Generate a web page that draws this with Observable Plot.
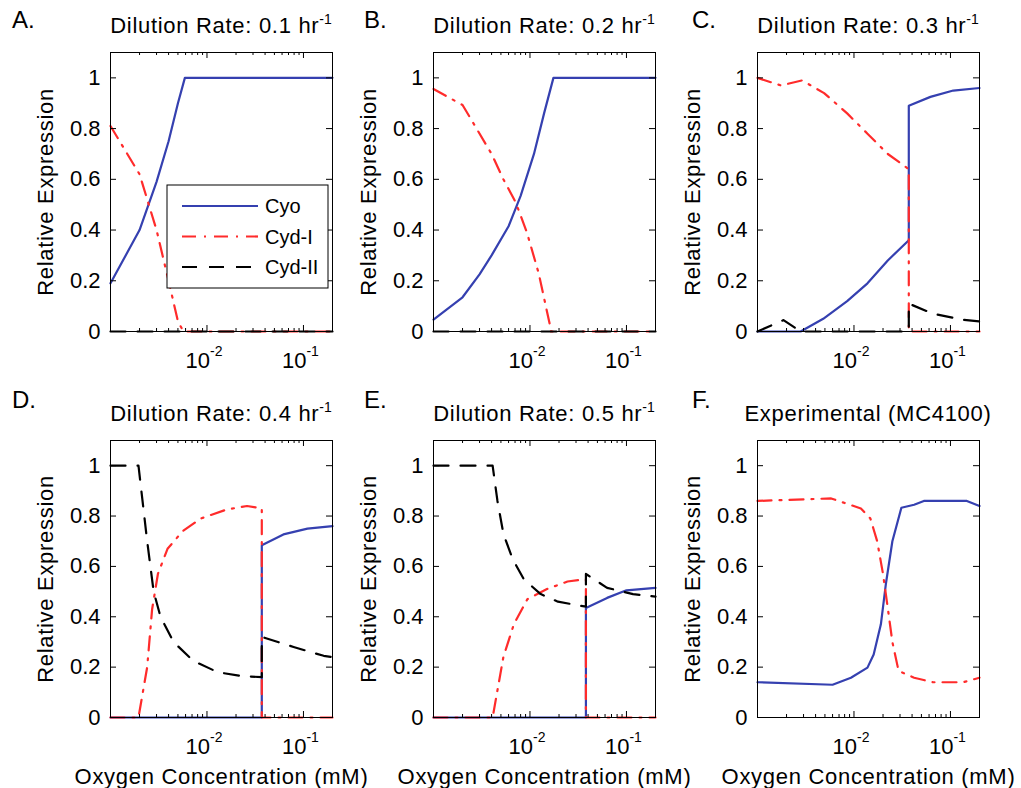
<!DOCTYPE html>
<html><head><meta charset="utf-8">
<script src="https://cdn.jsdelivr.net/npm/d3@7"></script>
<script src="https://cdn.jsdelivr.net/npm/@observablehq/plot@0.6"></script>
<style>
html,body{margin:0;padding:0;background:#fff;}
#root{position:relative;width:1021px;height:788px;overflow:hidden;background:#fff;}
#root > svg{position:absolute;overflow:visible;}
</style></head><body><div id="root"></div>
<script>
// ---------- labels / ticks ----------
const yTicks = [0, 0.2, 0.4, 0.6, 0.8, 1];
const yTickLabels = ["0", "0.2", "0.4", "0.6", "0.8", "1"];
const xMajor = [0.01, 0.1];
const xMajorBase = ["10", "10"];
const xMajorExp = ["-2", "-1"];
const xMinor = [0.002, 0.003, 0.004, 0.005, 0.006, 0.007, 0.008, 0.009,
                0.02, 0.03, 0.04, 0.05, 0.06, 0.07, 0.08, 0.09, 0.2];
const seriesNames = ["Cyo", "Cyd-I", "Cyd-II"];
const panelLetters = ["A.", "B.", "C.", "D.", "E.", "F."];
const panelTitles = ["Dilution Rate: 0.1 hr", "Dilution Rate: 0.2 hr", "Dilution Rate: 0.3 hr",
                     "Dilution Rate: 0.4 hr", "Dilution Rate: 0.5 hr", "Experimental (MC4100)"];
const panelTitleExp = ["-1", "-1", "-1", "-1", "-1", ""];
const yLabel = "Relative Expression";
const xLabel = "Oxygen Concentration (mM)";

// ---------- data: [oxygen mM, relative expression] ----------
const aCyo   = [[0.001,0.19],[0.002,0.40],[0.003,0.59],[0.004,0.75],[0.005,0.90],[0.0059,1.0],[0.2,1.0]];
const aCydI  = [[0.001,0.81],[0.002,0.62],[0.003,0.40],[0.004,0.20],[0.005,0.04],[0.0057,0],[0.2,0]];
const aCydII = [[0.001,0],[0.2,0]];

const bCyo   = [[0.001,0.047],[0.002,0.135],[0.003,0.225],[0.004,0.30],[0.006,0.415],[0.008,0.535],[0.011,0.70],[0.014,0.86],[0.0175,1.0],[0.2,1.0]];
const bCydI  = [[0.001,0.956],[0.002,0.893],[0.0026,0.82],[0.004,0.70],[0.0053,0.60],[0.0071,0.51],[0.0093,0.39],[0.0123,0.23],[0.016,0.03],[0.0165,0],[0.2,0]];
const bCydII = [[0.001,0],[0.2,0]];

const cCyo   = [[0.001,0],[0.0028,0],[0.0048,0.05],[0.0085,0.12],[0.0138,0.19],[0.0224,0.28],[0.037,0.36],[0.037,0.89],[0.062,0.925],[0.107,0.95],[0.2,0.96]];
const cCydI  = [[0.001,1.0],[0.00175,0.97],[0.0029,0.99],[0.0049,0.94],[0.0085,0.86],[0.0138,0.78],[0.0224,0.70],[0.037,0.64],[0.037,0],[0.2,0]];
const cCydII = [[0.001,0],[0.00186,0.045],[0.0028,0],[0.037,0],[0.037,0.11],[0.066,0.07],[0.136,0.046],[0.2,0.04]];

const dCyo   = [[0.001,0],[0.037,0],[0.037,0.684],[0.062,0.727],[0.11,0.75],[0.2,0.76]];
const dCydI  = [[0.001,0],[0.00195,0],[0.0024,0.20],[0.0027,0.43],[0.0031,0.57],[0.0039,0.67],[0.0056,0.74],[0.0086,0.79],[0.016,0.826],[0.026,0.84],[0.037,0.83],[0.037,0],[0.2,0]];
const dCydII = [[0.001,1.0],[0.00195,1.0],[0.0024,0.70],[0.0028,0.50],[0.0033,0.40],[0.0045,0.30],[0.0072,0.225],[0.0129,0.18],[0.0224,0.165],[0.037,0.16],[0.037,0.32],[0.079,0.28],[0.162,0.245],[0.2,0.24]];

const eCyo   = [[0.001,0],[0.038,0],[0.038,0.435],[0.063,0.475],[0.1,0.505],[0.2,0.515]];
const eCydI  = [[0.001,0],[0.0041,0],[0.0053,0.24],[0.0068,0.37],[0.0094,0.47],[0.015,0.51],[0.0245,0.54],[0.038,0.55],[0.038,0],[0.2,0]];
const eCydII = [[0.001,1],[0.0041,1],[0.0046,0.86],[0.0053,0.73],[0.0066,0.63],[0.0086,0.55],[0.0129,0.49],[0.0195,0.46],[0.038,0.44],[0.038,0.57],[0.063,0.515],[0.117,0.49],[0.2,0.48]];

const fCyo   = [[0.001,0.14],[0.006,0.13],[0.0093,0.158],[0.0138,0.198],[0.016,0.25],[0.019,0.37],[0.0214,0.53],[0.025,0.70],[0.031,0.833],[0.042,0.845],[0.053,0.86],[0.148,0.86],[0.2,0.84]];
const fCydI  = [[0.001,0.86],[0.0058,0.87],[0.0118,0.83],[0.0148,0.79],[0.0174,0.70],[0.020,0.57],[0.0224,0.435],[0.025,0.30],[0.029,0.185],[0.042,0.158],[0.066,0.14],[0.135,0.14],[0.2,0.158]];

const panels = [
  [["Cyo", aCyo], ["Cyd-I", aCydI], ["Cyd-II", aCydII]],
  [["Cyo", bCyo], ["Cyd-I", bCydI], ["Cyd-II", bCydII]],
  [["Cyo", cCyo], ["Cyd-I", cCydI], ["Cyd-II", cCydII]],
  [["Cyo", dCyo], ["Cyd-I", dCydI], ["Cyd-II", dCydII]],
  [["Cyo", eCyo], ["Cyd-I", eCydI], ["Cyd-II", eCydII]],
  [["Cyo", fCyo], ["Cyd-I", fCydI]]
];

// ---------- styles / layout ----------
const FONT = "'Liberation Sans', Arial, Helvetica, sans-serif";
const colors = {"Cyo": "#3540b0", "Cyd-I": "#ff2b2b", "Cyd-II": "#000000"};
const dashes = {"Cyo": null, "Cyd-I": "14,8,2,8", "Cyd-II": "15,12"};
const cellX = [[0, 340], [340, 680], [680, 1021]];
const cellY = [[0, 394], [394, 788]];
const frameL = [110, 433, 757], frameW = 222;
const frameT = [52, 440], frameH = [279, 277];

const root = document.getElementById("root");

function makePanel(i) {
  const col = i % 3, row = Math.floor(i / 3);
  const [cl, cr] = cellX[col], [ct, cb] = cellY[row];
  const fL = frameL[col], fT = frameT[row], fH = frameH[row];
  const ml = fL - cl, mr = cr - (fL + frameW), mt = fT - ct, mb = cb - (fT + fH);
  const marks = [];
  for (const [name, data] of panels[i]) {
    marks.push(Plot.line(data, {x: d => d[0], y: d => d[1], stroke: colors[name],
      strokeWidth: 2.2, strokeDasharray: dashes[name]}));
  }
  marks.push(Plot.frame({stroke: "#000", strokeWidth: 1}));
  // inward ticks
  marks.push(Plot.tickX(xMajor, {x: d => d, insetTop: fH - 6, stroke: "#000"}));
  marks.push(Plot.tickX(xMajor, {x: d => d, insetBottom: fH - 6, stroke: "#000"}));
  marks.push(Plot.tickX(xMinor, {x: d => d, insetTop: fH - 3, stroke: "#000"}));
  marks.push(Plot.tickX(xMinor, {x: d => d, insetBottom: fH - 3, stroke: "#000"}));
  marks.push(Plot.tickY(yTicks, {y: d => d, insetRight: frameW - 6, stroke: "#000"}));
  marks.push(Plot.tickY(yTicks, {y: d => d, insetLeft: frameW - 6, stroke: "#000"}));
  // tick labels
  marks.push(Plot.text(yTicks, {y: d => d, text: (d, j) => yTickLabels[j], frameAnchor: "left",
    textAnchor: "end", lineAnchor: "middle", dx: -10, fontSize: 22, fill: "#000"}));
  marks.push(Plot.text(xMajor, {x: d => d, text: (d, j) => xMajorBase[j], frameAnchor: "bottom",
    textAnchor: "end", lineAnchor: "bottom", dx: 3, dy: 36, fontSize: 22, fill: "#000"}));
  marks.push(Plot.text(xMajor, {x: d => d, text: (d, j) => xMajorExp[j], frameAnchor: "bottom",
    textAnchor: "start", lineAnchor: "bottom", dx: 3, dy: 24, fontSize: 14, fill: "#000"}));
  // axis labels
  marks.push(Plot.text([yLabel], {text: d => d, frameAnchor: "left", rotate: -90,
    textAnchor: "middle", lineAnchor: "middle", dx: -65, fontSize: 22, fill: "#000"}));
  if (row === 1) {
    marks.push(Plot.text([xLabel], {text: d => d, frameAnchor: "bottom",
      textAnchor: "middle", lineAnchor: "bottom", dy: 66, fontSize: 22, fill: "#000"}));
  }
  const svg = Plot.plot({
    width: cr - cl, height: cb - ct,
    marginLeft: ml, marginRight: mr, marginTop: mt, marginBottom: mb,
    x: {type: "log", domain: [0.001, 0.2], axis: null},
    y: {domain: [0, 1.1], axis: null},
    style: {fontFamily: FONT, background: "transparent", overflow: "visible"},
    marks
  });
  svg.style.left = cl + "px";
  svg.style.top = ct + "px";
  svg.querySelectorAll("text").forEach(t => {
    if (t.textContent === yLabel || t.textContent === xLabel) t.setAttribute("letter-spacing", "0.7");
  });
  root.appendChild(svg);
}
for (let i = 0; i < 6; i++) makePanel(i);

// ---------- overlay: panel letters, titles, legend ----------
const ov = d3.create("svg").attr("width", 1021).attr("height", 788)
  .style("left", "0px").style("top", "0px").attr("font-family", FONT);
const letterBase = [28, 408];
const letterX = [12, 364, 692];
for (let i = 0; i < 6; i++) {
  const col = i % 3, row = Math.floor(i / 3);
  ov.append("text").attr("x", letterX[col]).attr("y", letterBase[row])
    .attr("font-size", 24).attr("fill", "#000").text(panelLetters[i]);
  const t = ov.append("text").attr("x", frameL[col] + frameW / 2).attr("y", frameT[row] - 19)
    .attr("text-anchor", "middle").attr("font-size", 22).attr("letter-spacing", 0.7).attr("fill", "#000");
  t.append("tspan").text(panelTitles[i]);
  if (panelTitleExp[i]) t.append("tspan").attr("font-size", 14).attr("dy", -9).attr("letter-spacing", 0).text(panelTitleExp[i]);
}
// legend inside panel A
const lg = ov.append("g").attr("transform", "translate(167,185)");
lg.append("rect").attr("width", 161).attr("height", 103).attr("fill", "#fff").attr("stroke", "#000").attr("stroke-width", 1);
seriesNames.forEach((name, k) => {
  const yy = 21 + k * 30.5;
  lg.append("line").attr("x1", 15).attr("x2", 91).attr("y1", yy).attr("y2", yy)
    .attr("stroke", colors[name]).attr("stroke-width", 2.2).attr("stroke-dasharray", dashes[name]);
  lg.append("text").attr("x", 98).attr("y", yy).attr("dy", "0.35em").attr("font-size", 20).attr("fill", "#000").text(name);
});
root.appendChild(ov.node());
</script>
</body></html>
